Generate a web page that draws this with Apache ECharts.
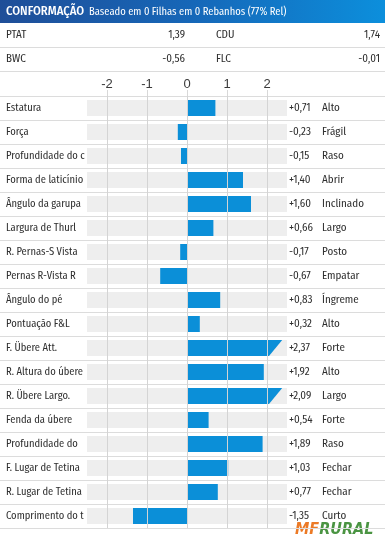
<!DOCTYPE html>
<html><head><meta charset="utf-8">
<script src="https://cdn.jsdelivr.net/npm/echarts@6/dist/echarts.min.js"></script>
<style>html,body{margin:0;padding:0;background:#fff}#c{width:385px;height:547px}</style>
</head><body><div id="c"></div>
<script>
const title = 'CONFORMAÇÃO';
const subtitle = 'Baseado em 0 Filhas em 0 Rebanhos (77% Rel)';
const summaryNames = ['PTAT', 'CDU', 'BWC', 'FLC'];
const summaryValues = [1.39, 1.74, -0.56, -0.01];
const traits = ['Estatura', 'Força', 'Profundidade do corpo', 'Forma de laticínio', 'Ângulo da garupa',
  'Largura de Thurl', 'R. Pernas-S Vista', 'Pernas R-Vista R', 'Ângulo do pé', 'Pontuação F&L',
  'F. Übere Att.', 'R. Altura do úbere', 'R. Übere Largo.', 'Fenda da úbere', 'Profundidade do úbere',
  'F. Lugar de Tetina', 'R. Lugar de Tetina', 'Comprimento do teto'];
const values = [0.71, -0.23, -0.15, 1.40, 1.60, 0.66, -0.17, -0.67, 0.83, 0.32,
  2.37, 1.92, 2.09, 0.54, 1.89, 1.03, 0.77, -1.35];
const descriptors = ['Alto', 'Frágil', 'Raso', 'Abrir', 'Inclinado', 'Largo', 'Posto', 'Empatar', 'Íngreme', 'Alto',
  'Forte', 'Alto', 'Largo', 'Forte', 'Raso', 'Fechar', 'Fechar', 'Curto'];
const tickValues = [-2, -1, 0, 1, 2];
const axisMin = -2.5, axisMax = 2.5;
const capValue = 2;          // above this the bar gets a slanted end
const capTop = 2.38, capBottom = 2.05;

const FONT = '"Fira Sans Condensed","Roboto Condensed",sans-serif';
const BLUE = '#0b8fd8';
const TXT = '#2f2f2f';
const fmtSigned = v => (v > 0 ? '+' : '') + v.toFixed(2).replace('.', ',');
const fmtPlain = v => v.toFixed(2).replace('.', ',');

const N = traits.length;
const ROW_TOP = 96, ROW_H = 24;

const graphic = [
  { type: 'rect', left: 0, top: 0, shape: { width: 385, height: 23 },
    style: { fill: new echarts.graphic.LinearGradient(0, 0, 1, 0, [
      { offset: 0, color: '#1f4e98' }, { offset: 0.5, color: '#1667b8' }, { offset: 1, color: '#0c8fdc' }]) } },
  { type: 'text', x: 6, y: 12, style: { text: title, fill: '#fff', fontSize: 12.5, fontWeight: 500, fontFamily: FONT, verticalAlign: 'middle' } },
  { type: 'text', x: 89, y: 12, style: { text: subtitle, fill: '#fff', fontSize: 10.5, fontFamily: FONT, verticalAlign: 'middle' } },
  { type: 'line', shape: { x1: 0, y1: 47.5, x2: 385, y2: 47.5 }, style: { stroke: '#dcdcdc', lineWidth: 1 } },
  { type: 'line', shape: { x1: 0, y1: 71.5, x2: 385, y2: 71.5 }, style: { stroke: '#dcdcdc', lineWidth: 1 } }
];
summaryNames.forEach((n, i) => {
  const row = Math.floor(i / 2), col = i % 2;
  const y = 35 + 24 * row;
  graphic.push({ type: 'text', x: col ? 216 : 6, y: y, style: { text: n, fill: TXT, fontSize: 11, fontFamily: FONT, verticalAlign: 'middle' } });
  graphic.push({ type: 'text', x: col ? 380 : 185, y: y, style: { text: fmtPlain(summaryValues[i]), fill: TXT, fontSize: 11, fontFamily: FONT, verticalAlign: 'middle', align: 'right' } });
});
graphic.push({ type: 'text', x: 295, y: 530, style: {
  text: '{mf|MF}{ru|RURAL}', verticalAlign: 'middle',
  rich: {
    mf: { fill: '#ec7a26', fontStyle: 'italic', fontWeight: 'bold', fontSize: 16, fontFamily: '"DejaVu Sans Condensed","DejaVu Sans"' },
    ru: { fill: '#4a9442', fontStyle: 'italic', fontWeight: 'bold', fontSize: 16, fontFamily: '"DejaVu Sans Condensed","DejaVu Sans"' }
  } } });

const data = values.map((v, i) => [v, i]);

const option = {
  animation: false,
  graphic: graphic,
  grid: [
    { left: 87, width: 200, top: ROW_TOP, height: N * ROW_H },
    { left: 0, right: 0, top: ROW_TOP, height: N * ROW_H }
  ],
  xAxis: [
    { gridIndex: 0, type: 'value', min: axisMin, max: axisMax, position: 'top',
      axisLine: { show: false },
      axisTick: { show: true, customValues: tickValues, length: 6, lineStyle: { color: '#d8d8d8' } },
      axisLabel: { customValues: tickValues, margin: 5, fontSize: 13, color: '#3a3a3a', fontFamily: '"Liberation Sans",sans-serif',
        formatter: v => String(v) },
      splitLine: { show: false } },
    { gridIndex: 1, type: 'value', show: false }
  ],
  yAxis: [
    { gridIndex: 0, type: 'category', data: traits, inverse: true,
      axisLine: { show: false }, axisTick: { show: false }, splitLine: { show: false },
      axisLabel: { interval: 0, align: 'left', margin: 81, width: 80, overflow: 'truncate', ellipsis: '',
        fontSize: 10.5, color: TXT, fontFamily: FONT } },
    { gridIndex: 0, type: 'category', data: traits, inverse: true, position: 'right',
      axisLine: { show: false }, axisTick: { show: false }, splitLine: { show: false },
      axisLabel: { interval: 0, align: 'left', margin: 2, fontSize: 11, color: TXT, fontFamily: FONT,
        formatter: (v, i) => fmtSigned(values[i]) } },
    { gridIndex: 0, type: 'category', data: traits, inverse: true, position: 'right',
      axisLine: { show: false }, axisTick: { show: false }, splitLine: { show: false },
      axisLabel: { interval: 0, align: 'left', margin: 35, fontSize: 11, color: TXT, fontFamily: FONT,
        formatter: (v, i) => descriptors[i] } },
    { gridIndex: 1, type: 'category', data: traits, inverse: true,
      axisLine: { show: false }, axisTick: { show: false }, axisLabel: { show: false },
      splitLine: { show: true, interval: 0, lineStyle: { color: '#dcdcdc', width: 1 } } }
  ],
  series: [
    { type: 'custom', xAxisIndex: 0, yAxisIndex: 0, z: 1, silent: true, data: data,
      encode: { x: 0, y: 1 },
      renderItem: (params, api) => {
        const cs = params.coordSys;
        const c = api.coord([0, api.value(1)]);
        return { type: 'rect', shape: { x: cs.x, y: c[1] - 8, width: cs.width, height: 16 }, style: { fill: '#eeeeee' } };
      } },
    { type: 'line', xAxisIndex: 0, yAxisIndex: 0, z: 2, data: [], silent: true,
      markLine: { silent: true, symbol: ['none', 'none'], label: { show: false },
        lineStyle: { color: '#d4d4d4', width: 1, type: 'solid' },
        data: tickValues.map(t => ({ xAxis: t })) } },
    { type: 'custom', xAxisIndex: 0, yAxisIndex: 0, z: 3, silent: true, data: data,
      encode: { x: 0, y: 1 },
      renderItem: (params, api) => {
        const v = api.value(0), idx = api.value(1);
        const p0 = api.coord([0, idx]);
        const y0 = p0[1] - 8, y1 = p0[1] + 8;
        if (v > capValue) {
          const xt = api.coord([capTop, idx])[0], xb = api.coord([capBottom, idx])[0];
          return { type: 'polygon', shape: { points: [[p0[0], y0], [xt, y0], [xb, y1], [p0[0], y1]] }, style: { fill: BLUE } };
        }
        const p1 = api.coord([v, idx]);
        return { type: 'rect', shape: { x: Math.min(p0[0], p1[0]), y: y0, width: Math.abs(p1[0] - p0[0]), height: 16 }, style: { fill: BLUE } };
      } }
  ]
};
const chart = echarts.init(document.getElementById('c'), null, { renderer: 'canvas' });
chart.setOption(option);
</script>
</body></html>
